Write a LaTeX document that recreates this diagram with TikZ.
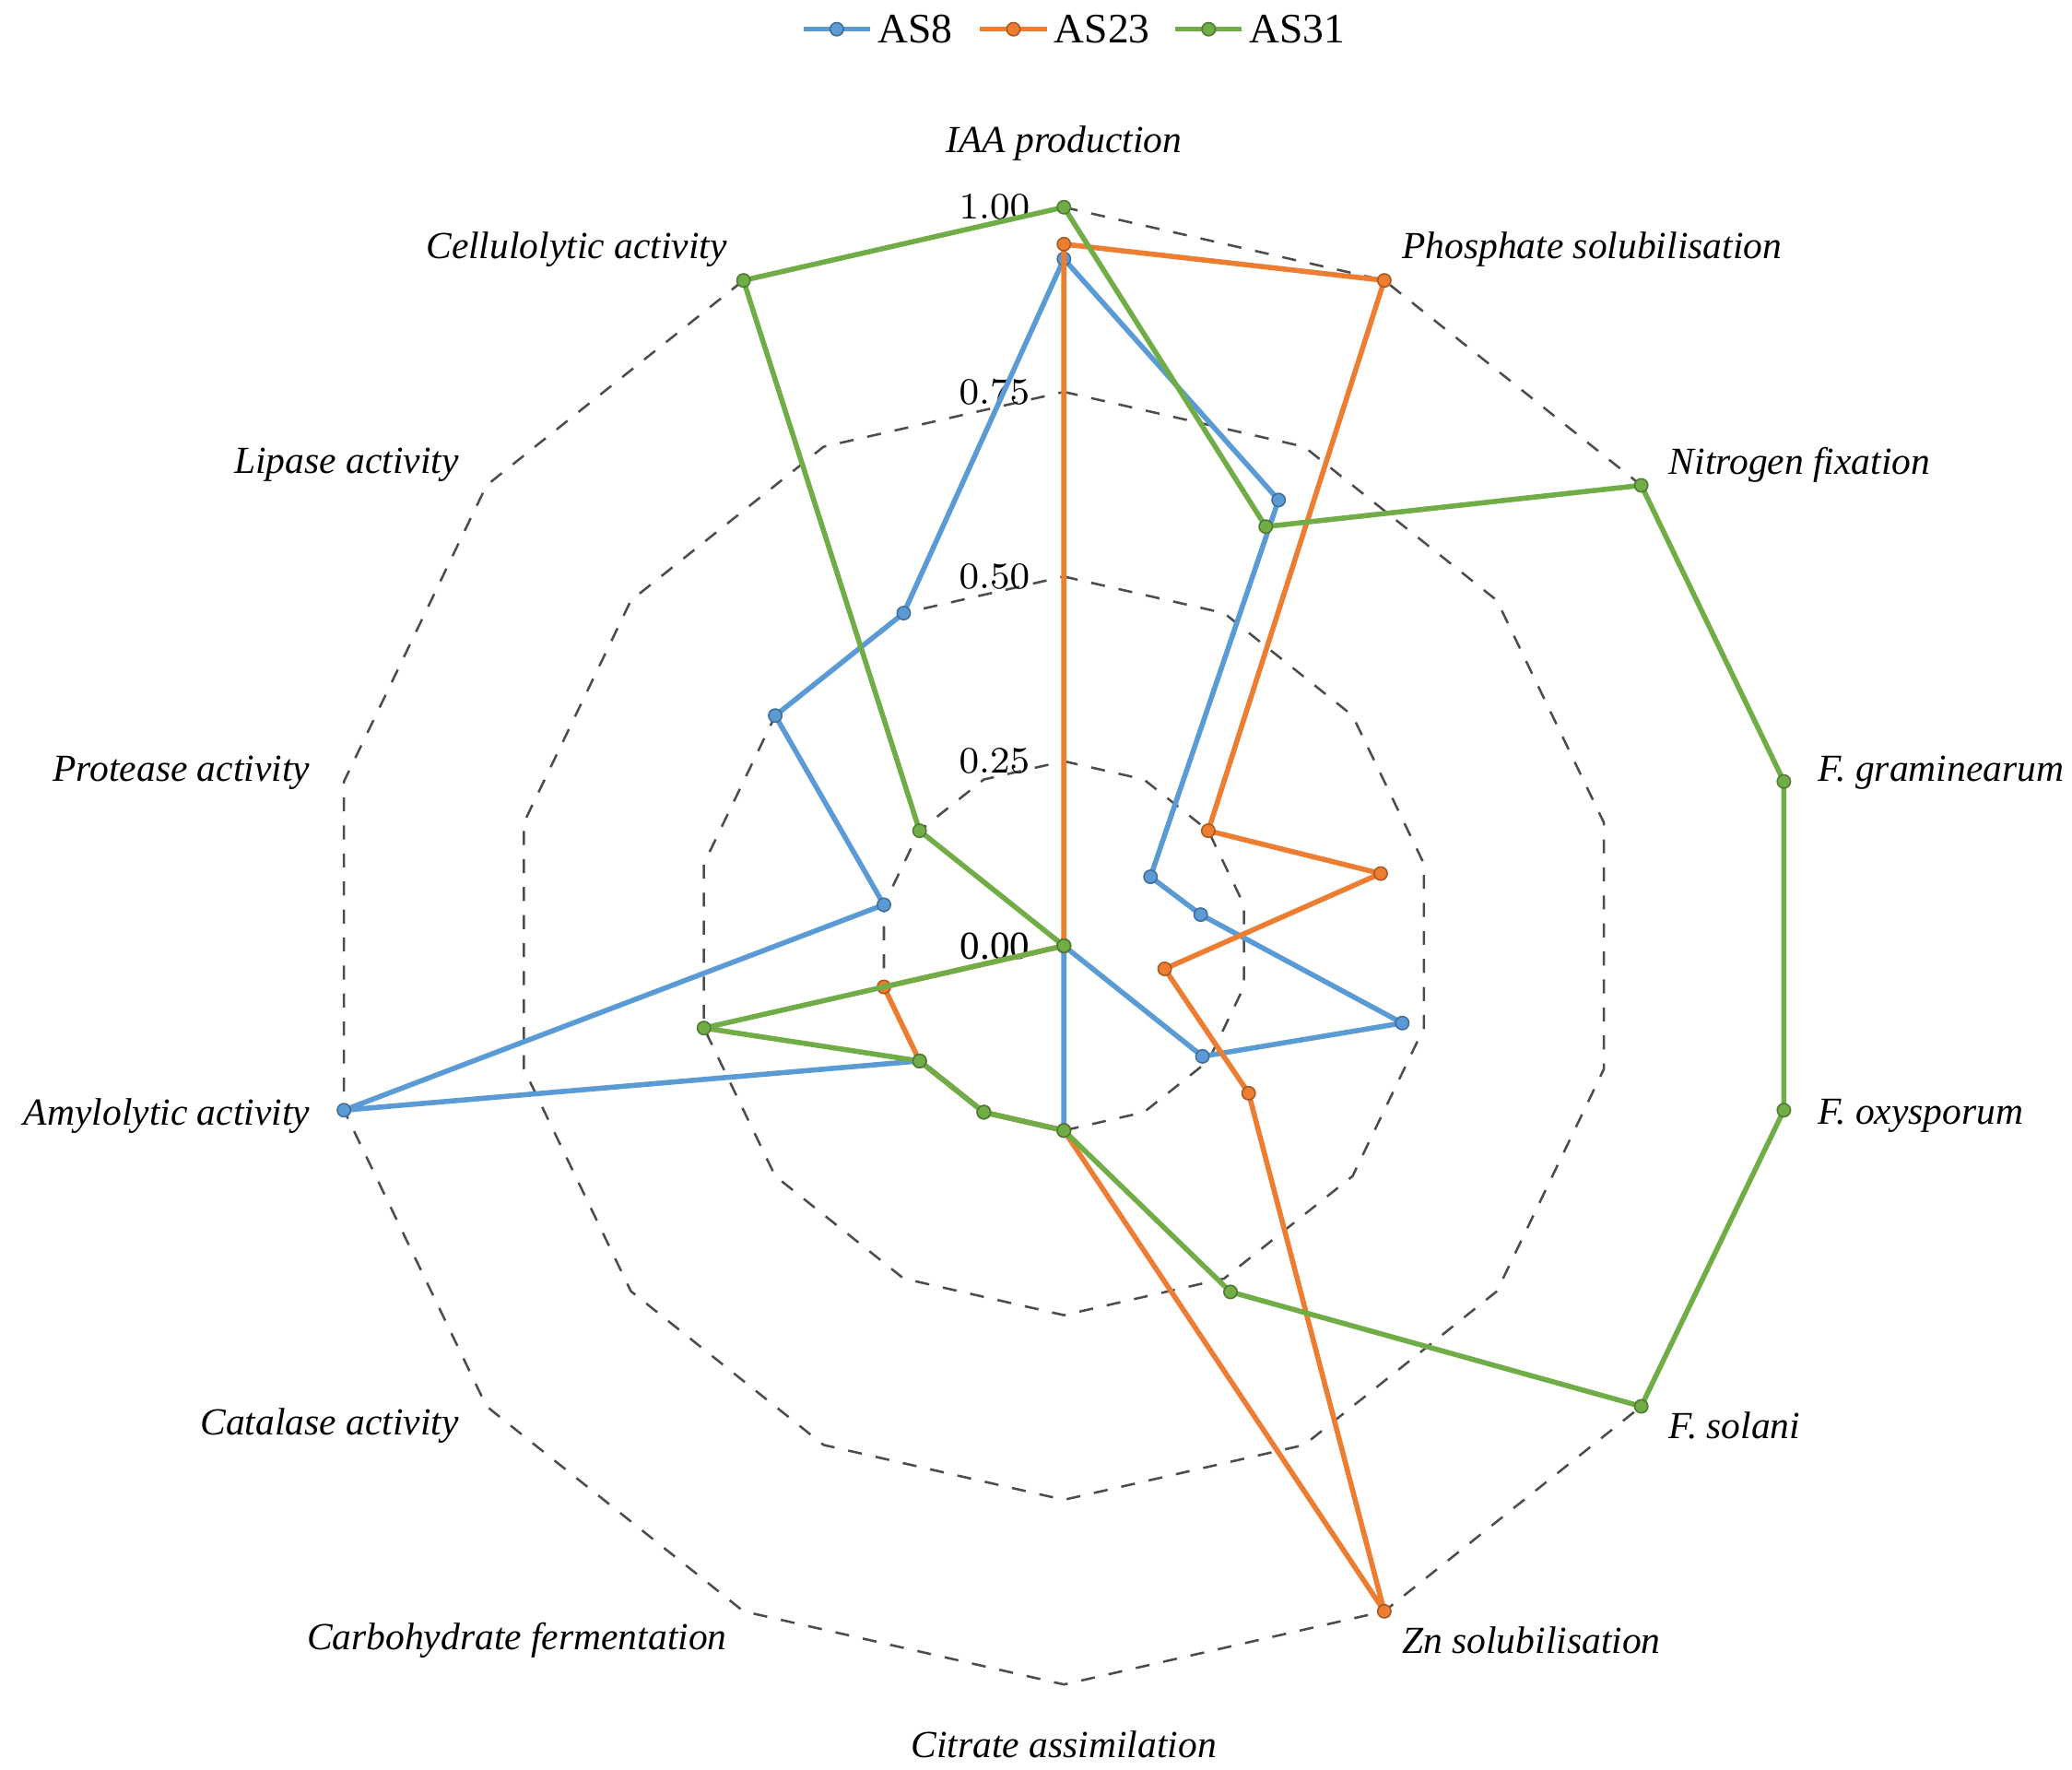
\documentclass[tikz,border=0pt]{standalone}
\usepackage{fontspec}
\setmainfont{Liberation Serif}
\begin{document}
\begin{tikzpicture}[x=1cm,y=1cm,
  grid/.style={draw=black!70,dashed,line width=0.5pt},
  lab/.style={font=\fontsize{8.2}{10}\selectfont\itshape,inner sep=0pt},
  tick/.style={font=\fontsize{8.5}{10}\selectfont,anchor=east,inner sep=0pt},
  leg/.style={font=\fontsize{9}{11}\selectfont,anchor=west,inner sep=0pt}]
\definecolor{cb}{HTML}{5B9BD5}
\definecolor{co}{HTML}{ED7D31}
\definecolor{cg}{HTML}{70AD47}
\useasboundingbox (-8.01,-6.20) rectangle (7.59,7.12);
\pgfmathsetmacro{\R}{5.56}
\foreach \r in {0.25,0.5,0.75,1}{
  \draw[grid] (90:\r*\R) \foreach \i in {1,...,13}{ -- ({90-\i*360/14}:\r*\R)} -- cycle;
  \node[tick] (t\r) at (-0.25,\r*\R) {\pgfmathprintnumber[fixed,fixed zerofill,precision=2]{\r}};
}
\node[tick] (t0) at (-0.25,0) {0.00};
\newcommand{\drawseries}[3]{%
  \foreach \v [count=\i from 0] in {#2}{\coordinate (#3\i) at ({90-\i*360/14}:{\v*\R});}
  \draw[#1,line width=1.1pt,line join=round] (#30) \foreach \i in {1,...,13}{ -- (#3\i)} -- cycle;
  \foreach \i in {0,...,13}{\node[circle,fill=#1,draw=#1!70!black,line width=0.3pt,inner sep=0pt,minimum size=0.1cm] (m#3\i) at (#3\i) {};}
}
\drawseries{cb}{0.93,0.67,0.15,0.19,0.47,0.24,0,0.25,0.25,0.25,1,0.25,0.5,0.5}{b}
\drawseries{co}{0.95,1,0.25,0.44,0.14,0.32,1,0.25,0.25,0.25,0.25,0,0,0}{o}
\drawseries{cg}{1,0.63,1,1,1,1,0.52,0.25,0.25,0.25,0.5,0,0.25,1}{g}
% labels
\node[lab] (l0) at (0,6.04) {IAA production};
\node[lab,anchor=west] (l1) at (2.54,5.24) {Phosphate solubilisation};
\node[lab,anchor=west] (l2) at (4.55,3.62) {Nitrogen fixation};
\node[lab,anchor=west] (l3) at (5.67,1.30) {F. graminearum};
\node[lab,anchor=west] (l4) at (5.67,-1.28) {F. oxysporum};
\node[lab,anchor=west] (l5) at (4.55,-3.61) {F. solani};
\node[lab,anchor=west] (l6) at (2.54,-5.23) {Zn solubilisation};
\node[lab] (l7) at (0,-6.01) {Citrate assimilation};
\node[lab,anchor=east] (l8) at (-2.53,-5.23) {Carbohydrate fermentation};
\node[lab,anchor=east] (l9) at (-4.55,-3.61) {Catalase activity};
\node[lab,anchor=east] (l10) at (-5.67,-1.28) {Amylolytic activity};
\node[lab,anchor=east] (l11) at (-5.67,1.30) {Protease activity};
\node[lab,anchor=east] (l12) at (-4.55,3.62) {Lipase activity};
\node[lab,anchor=east] (l13) at (-2.53,5.24) {Cellulolytic activity};
% legend
\foreach \c/\x/\t in {cb/-1.96/AS8,co/-0.63/AS23,cg/0.84/AS31}{
  \coordinate (a\t) at (\x,6.90); \coordinate (e\t) at (\x+0.5,6.90);
  \draw[\c,line width=1.1pt] (a\t) -- (e\t);
  \node[circle,fill=\c,draw=\c!70!black,line width=0.3pt,inner sep=0pt,minimum size=0.1cm] (k\t) at (\x+0.25,6.90) {};
  \node[leg] (n\t) at (\x+0.55,6.90) {\t};
}
\end{tikzpicture}
\end{document}
